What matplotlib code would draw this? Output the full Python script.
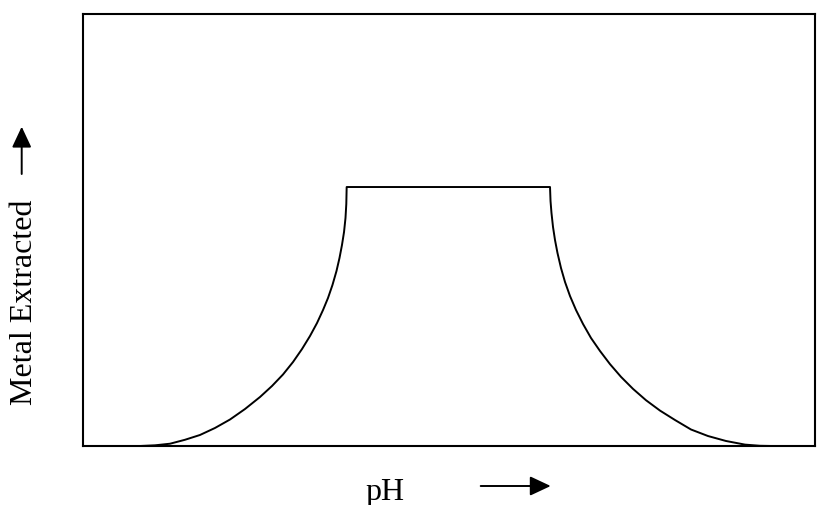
import matplotlib
matplotlib.use('Agg')
import matplotlib.pyplot as plt
from matplotlib.patches import FancyArrowPatch, ArrowStyle

# curve (x: pH axis 0-100, y: metal extracted 0-100)
rise_x = [7.79, 9.84, 11.89, 13.93, 15.98, 18.03, 20.08, 22.13, 24.18, 25.82,
          27.32, 28.69, 29.92, 31.01, 31.97, 32.79, 33.47, 34.08, 34.63, 35.04,
          35.38, 35.66, 35.86, 35.97, 36.02]
rise_y = [0.00, 0.16, 0.53, 1.44, 2.55, 4.17, 6.13, 8.56, 11.34, 13.89,
          16.55, 19.44, 22.45, 25.46, 28.47, 31.48, 34.26, 37.27, 40.51, 43.52,
          46.53, 49.54, 52.78, 56.02, 59.95]
plateau_x = [36.02, 63.80]
plateau_y = [59.95, 59.95]
fall_x = [63.80, 63.87, 64.00, 64.21, 64.48, 64.82, 65.30, 65.85, 66.53, 67.35,
          68.31, 69.40, 70.63, 71.99, 73.50, 75.14, 76.91, 78.83, 80.87, 83.06,
          85.38, 87.84, 90.44, 92.49, 94.13]
fall_y = [59.95, 56.71, 53.94, 50.69, 47.69, 44.68, 41.20, 37.96, 34.72, 31.48,
          28.24, 25.00, 21.99, 18.96, 16.00, 13.22, 10.60, 8.19, 6.02, 3.82,
          2.31, 1.16, 0.32, 0.05, 0.00]

x_label = 'pH'
y_label = 'Metal Extracted'

plt.rcParams['font.family'] = ['Liberation Serif', 'DejaVu Serif']

fig = plt.figure(figsize=(8.17, 5.06), dpi=100)
ax = fig.add_axes([83 / 817, 59 / 506, 732 / 817, 432 / 506])

xs = rise_x + plateau_x[1:] + fall_x[1:]
ys = rise_y + plateau_y[1:] + fall_y[1:]
ax.plot(xs, ys, color='black', lw=1.4, clip_on=False, zorder=3,
        solid_joinstyle='round')

ax.set_xlim(0, 100)
ax.set_ylim(0, 100)
ax.set_xticks([])
ax.set_yticks([])
for s in ax.spines.values():
    s.set_linewidth(1.5)

fig.text(25 / 817, 1 - 302 / 506, y_label, rotation=90, fontsize=23,
         ha='center', va='center')
fig.text(385 / 817, 1 - 493 / 506, x_label, fontsize=23,
         ha='center', va='center')

style = ArrowStyle('-|>', head_length=12.7, head_width=5.95)
arrows = [((21.7 / 817, 331 / 506), (21.7 / 817, 378.3 / 506)),
          ((480.7 / 817, 19 / 506), (550.7 / 817, 19 / 506))]
for tail, tip in arrows:
    fig.add_artist(FancyArrowPatch(tail, tip, transform=fig.transFigure,
                                   arrowstyle=style, mutation_scale=1,
                                   color='black', lw=1.4,
                                   shrinkA=0, shrinkB=0))

fig.savefig('out.png', dpi=100)
